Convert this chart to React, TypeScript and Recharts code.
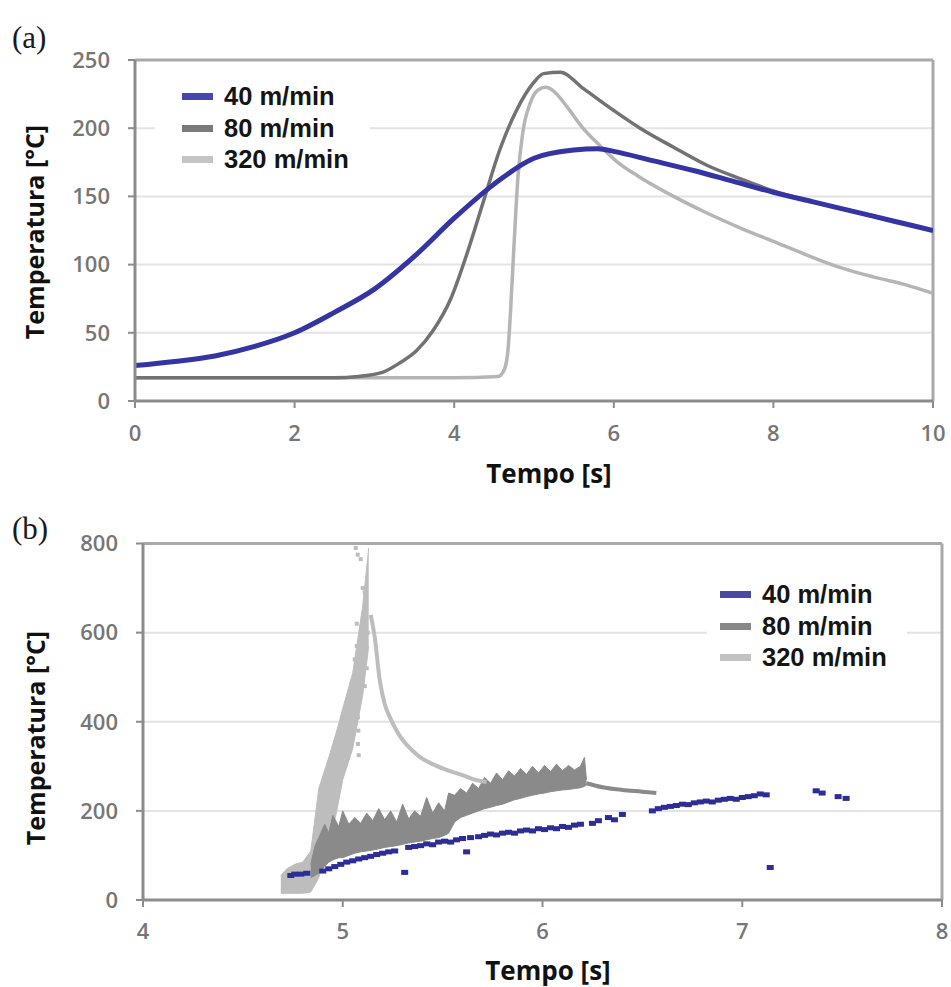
import React from 'react';
import {
  LineChart, Line, ComposedChart, Area, Scatter, XAxis, YAxis,
  CartesianGrid, ReferenceLine, Legend,
} from 'recharts';

// ---------- Panel (a): temperature vs time, 0..10 s ----------
const seriesNames = ['40 m/min', '80 m/min', '320 m/min'];
const xTicksA = [0, 2, 4, 6, 8, 10];
const yTicksA = [0, 50, 100, 150, 200, 250];

const a40: [number, number][] = [
  [0, 26], [0.5, 29], [1, 33], [1.5, 40], [2, 50], [2.5, 65], [3, 82], [3.5, 106],
  [4, 134], [4.5, 159], [5, 178], [5.5, 184], [5.8, 185], [6, 183], [6.5, 176],
  [7, 169], [7.5, 161], [8, 153], [8.5, 146], [9, 139], [9.5, 132], [10, 125],
];
const a80: [number, number][] = [
  [0, 17], [0.5, 17], [1, 17], [1.5, 17], [2, 17], [2.5, 17], [2.8, 18], [3.1, 21],
  [3.32, 28], [3.53, 37], [3.74, 52], [3.95, 74], [4.16, 108], [4.37, 147], [4.57, 184],
  [4.78, 213], [4.99, 233], [5.12, 240], [5.33, 241], [5.62, 229], [6.0, 213],
  [6.33, 200], [6.75, 186], [7.16, 173], [7.58, 163], [8, 154], [8.5, 146], [9, 139],
  [9.5, 132], [10, 125],
];
const a320: [number, number][] = [
  [0, 17], [1, 17], [2, 17], [3, 17], [4, 17], [4.55, 18], [4.62, 22], [4.67, 35],
  [4.71, 70], [4.75, 115], [4.8, 165], [4.86, 197], [4.95, 218], [5.05, 228],
  [5.15, 230], [5.25, 227], [5.41, 216], [5.6, 201], [5.83, 187], [6.05, 175],
  [6.3, 165], [6.75, 150], [7.16, 138], [7.58, 127], [8, 117], [8.42, 107],
  [8.83, 98], [9.25, 91], [9.67, 85], [10, 79],
];

// ---------- Panel (b): temperature vs time, 4..8 s ----------
const xTicksB = [4, 5, 6, 7, 8];
const yTicksB = [0, 200, 400, 600, 800];

// 40 m/min: scattered samples
const b40: [number, number][] = [
  [4.74, 55], [4.76, 58], [4.79, 58], [4.82, 60], [4.9, 65], [4.93, 70], [4.96, 75],
  [4.99, 80], [5.02, 85], [5.05, 88], [5.08, 92], [5.11, 95], [5.14, 98], [5.17, 102],
  [5.2, 105], [5.23, 108], [5.26, 110], [5.31, 62], [5.33, 118], [5.36, 120],
  [5.39, 122], [5.42, 126], [5.45, 124], [5.48, 130], [5.51, 132], [5.54, 130],
  [5.57, 135], [5.6, 138], [5.62, 108], [5.64, 140], [5.68, 142], [5.71, 145],
  [5.74, 148], [5.77, 146], [5.8, 150], [5.83, 152], [5.86, 150], [5.89, 155],
  [5.92, 157], [5.95, 155], [5.98, 160], [6.01, 158], [6.04, 162], [6.07, 160],
  [6.1, 165], [6.13, 163], [6.16, 168], [6.19, 170], [6.25, 172], [6.28, 178],
  [6.33, 185], [6.36, 180], [6.4, 192], [6.55, 200], [6.58, 205], [6.61, 208],
  [6.64, 210], [6.67, 212], [6.7, 215], [6.73, 214], [6.76, 218], [6.79, 220],
  [6.82, 222], [6.85, 220], [6.88, 224], [6.91, 226], [6.94, 228], [6.97, 226],
  [7.0, 230], [7.03, 232], [7.06, 234], [7.09, 238], [7.12, 236], [7.14, 73],
  [7.37, 245], [7.4, 240], [7.48, 232], [7.52, 228],
];

// 80 m/min: dense noisy band (low, high) then smooth tail
const b80band: [number, number, number][] = [
  [4.84, 50, 80], [4.86, 55, 120], [4.88, 60, 140], [4.91, 75, 170], [4.93, 85, 150], [4.95, 90, 190],
  [4.98, 95, 165], [5.0, 95, 200], [5.03, 100, 170], [5.06, 105, 185], [5.09, 108, 172],
  [5.12, 110, 195], [5.15, 112, 178], [5.18, 115, 205], [5.21, 118, 180], [5.24, 120, 200],
  [5.27, 122, 175], [5.3, 125, 215], [5.33, 128, 182], [5.36, 130, 200], [5.39, 132, 188],
  [5.42, 135, 230], [5.45, 138, 195], [5.48, 140, 218], [5.51, 145, 200], [5.53, 150, 240],
  [5.56, 175, 235], [5.59, 185, 250], [5.62, 190, 240], [5.65, 195, 262], [5.68, 200, 250],
  [5.71, 205, 275], [5.74, 208, 262], [5.77, 212, 285], [5.8, 215, 270], [5.83, 220, 290],
  [5.86, 225, 278], [5.89, 228, 295], [5.92, 232, 282], [5.95, 235, 300], [5.98, 238, 285],
  [6.01, 240, 302], [6.04, 243, 288], [6.07, 245, 305], [6.1, 247, 290], [6.13, 248, 302],
  [6.16, 250, 292], [6.19, 252, 300], [6.21, 255, 320], [6.22, 258, 270],
];
const b80tail: [number, number][] = [
  [6.22, 262], [6.3, 253], [6.4, 247], [6.5, 243], [6.57, 240],
];

// 320 m/min: steep rising band, sparse peak samples, smooth decay
const b320band: [number, number, number][] = [
  [4.69, 15, 55], [4.72, 15, 70], [4.76, 15, 80], [4.8, 15, 85], [4.84, 18, 110],
  [4.88, 50, 250], [4.93, 120, 320], [4.97, 200, 380], [5.0, 270, 430],
  [5.05, 340, 510], [5.1, 460, 660], [5.13, 570, 790],
];
const b320sparse: [number, number][] = [
  [5.065, 790], [5.075, 775], [5.09, 765], [5.1, 700], [5.11, 690], [5.07, 620],
  [5.1, 610], [5.125, 600], [5.07, 570], [5.06, 540], [5.09, 530], [5.12, 520],
  [5.08, 495], [5.11, 480], [5.075, 465], [5.078, 440], [5.076, 410], [5.078, 380],
  [5.076, 350], [5.08, 325],
];
const b320decay: [number, number][] = [
  [5.14, 640], [5.16, 590], [5.185, 494], [5.21, 440], [5.235, 411], [5.27, 380],
  [5.3, 359], [5.35, 335], [5.385, 321], [5.45, 305], [5.52, 292], [5.6, 280],
  [5.67, 269], [5.72, 265],
];

const pts = (arr: [number, number][]) => arr.map(([t, v]) => ({ t, v }));
const band = (arr: [number, number, number][]) => arr.map(([t, lo, hi]) => ({ t, r: [lo, hi] }));

const colorsA = ['#3434a4', '#727272', '#b5b5b5'];
const colorsB = ['#2d2d98', '#8a8a8a', '#bdbdbd'];
const swatchA = ['#4646b0', '#7a7a7a', '#c4c4c4'];
const swatchB = ['#4a4aa2', '#888888', '#c2c2c2'];

const axisColor = '#8c8c8c';
const frameColor = '#a9a9a9';
const tickFont = { fill: '#767676', fontSize: 22, fontFamily: '"Open Sans", "DejaVu Sans", sans-serif', fontWeight: 600 };

function LegendBox({ swatches, padLeft, width }: { swatches: string[]; padLeft: number; width: number }) {
  return (
    <div style={{ background: '#fff', width, paddingLeft: padLeft, boxSizing: 'border-box' }}>
      {seriesNames.map((n, i) => (
        <div key={n} style={{ display: 'flex', alignItems: 'center', height: 31.5 }}>
          <span style={{ display: 'inline-block', width: 31, height: 7, background: swatches[i], marginRight: 11 }} />
          <span style={{ fontFamily: '"Liberation Sans", Arial, sans-serif', fontWeight: 700, fontSize: 25.5, color: '#151515', lineHeight: '31px', whiteSpace: 'nowrap' }}>{n}</span>
        </div>
      ))}
    </div>
  );
}

const smallDot = (fill: string, w: number, h: number) => (p: any) => (
  <rect x={p.cx - w / 2} y={p.cy - h / 2} width={w} height={h} fill={fill} />
);

export default function App() {
  return (
    <div style={{ position: 'absolute', left: 0, top: 0, width: 951, height: 987, background: '#fff', overflow: 'hidden' }}>
      <div style={{ position: 'absolute', left: 0, top: 0 }}>
        <LineChart width={951} height={500} margin={{ top: 60, right: 18, bottom: 39, left: 0 }}>
          <CartesianGrid horizontal vertical={false} stroke="#e3e3e3" strokeWidth={2} />
          <XAxis dataKey="t" type="number" domain={[0, 10]} ticks={xTicksA} height={60}
            axisLine={{ stroke: axisColor, strokeWidth: 3 }} tickLine={{ stroke: axisColor, strokeWidth: 2 }}
            tickSize={7} tickMargin={17} tick={tickFont} allowDataOverflow />
          <YAxis type="number" domain={[0, 250]} ticks={yTicksA} width={135}
            axisLine={{ stroke: axisColor, strokeWidth: 3 }} tickLine={{ stroke: axisColor, strokeWidth: 2 }}
            tickSize={7} tickMargin={18} tick={tickFont} allowDataOverflow />
          <ReferenceLine y={250} stroke={frameColor} strokeWidth={3} />
          <ReferenceLine x={10} stroke={frameColor} strokeWidth={3} />
          <Line data={pts(a320)} dataKey="v" name={seriesNames[2]} type="monotone" stroke={colorsA[2]} strokeWidth={3.5} dot={false} isAnimationActive={false} />
          <Line data={pts(a80)} dataKey="v" name={seriesNames[1]} type="monotone" stroke={colorsA[1]} strokeWidth={3.5} dot={false} isAnimationActive={false} />
          <Line data={pts(a40)} dataKey="v" name={seriesNames[0]} type="monotone" stroke={colorsA[0]} strokeWidth={5} dot={false} isAnimationActive={false} />
          <Legend layout="vertical" align="center" verticalAlign="middle"
            wrapperStyle={{ left: 155, top: 81, width: 215 }}
            content={() => <LegendBox swatches={swatchA} padLeft={27} width={215} />} />
        </LineChart>
      </div>

      <div style={{ position: 'absolute', left: 0, top: 487 }}>
        <ComposedChart width={951} height={500} margin={{ top: 56.5, right: 9, bottom: 27, left: 0 }}>
          <CartesianGrid horizontal vertical={false} stroke="#e3e3e3" strokeWidth={2} />
          <XAxis dataKey="t" type="number" domain={[4, 8]} ticks={xTicksB} height={60}
            axisLine={{ stroke: axisColor, strokeWidth: 3 }} tickLine={{ stroke: axisColor, strokeWidth: 2 }}
            tickSize={7} tickMargin={16} tick={tickFont} allowDataOverflow />
          <YAxis type="number" domain={[0, 800]} ticks={yTicksB} width={143}
            axisLine={{ stroke: axisColor, strokeWidth: 3 }} tickLine={{ stroke: axisColor, strokeWidth: 2 }}
            tickSize={7} tickMargin={18} tick={tickFont} allowDataOverflow />
          <ReferenceLine y={800} stroke={frameColor} strokeWidth={3} />
          <ReferenceLine x={8} stroke={frameColor} strokeWidth={3} />
          <Area data={band(b320band)} dataKey="r" name={seriesNames[2]} type="linear" stroke={colorsB[2]} strokeWidth={1} fill={colorsB[2]} fillOpacity={1} isAnimationActive={false} dot={false} activeDot={false} />
          <Scatter data={pts(b320sparse)} dataKey="v" name={seriesNames[2] + ' '} fill={colorsB[2]} shape={smallDot(colorsB[2], 4, 4)} isAnimationActive={false} legendType="none" />
          <Line data={pts(b320decay)} dataKey="v" name={seriesNames[2] + '  '} type="monotone" stroke={colorsB[2]} strokeWidth={4} dot={false} isAnimationActive={false} legendType="none" />
          <Area data={band(b80band)} dataKey="r" name={seriesNames[1]} type="linear" stroke={colorsB[1]} strokeWidth={1} fill={colorsB[1]} fillOpacity={1} isAnimationActive={false} dot={false} activeDot={false} />
          <Line data={pts(b80tail)} dataKey="v" name={seriesNames[1] + ' '} type="monotone" stroke={colorsB[1]} strokeWidth={4} dot={false} isAnimationActive={false} legendType="none" />
          <Scatter data={pts(b40)} dataKey="v" name={seriesNames[0]} fill={colorsB[0]} shape={smallDot(colorsB[0], 7, 5)} isAnimationActive={false} />
          <Legend layout="vertical" align="center" verticalAlign="middle"
            wrapperStyle={{ left: 707, top: 92, width: 200 }}
            content={() => <LegendBox swatches={swatchB} padLeft={13} width={200} />} />
        </ComposedChart>
      </div>

      <svg width={951} height={987} style={{ position: 'absolute', left: 0, top: 0, pointerEvents: 'none' }}>
        <g fontFamily='"Liberation Serif", "Times New Roman", serif' fontSize={31} fill="#1a1a1a">
          <text x={12} y={48}>(a)</text>
          <text x={12} y={539}>(b)</text>
        </g>
        <g fontFamily='"Open Sans", "DejaVu Sans", sans-serif' fontWeight={700} fill="#111">
          <text transform="translate(44,232) rotate(-90)" textAnchor="middle" fontSize={25}>Temperatura [°C]</text>
          <text transform="translate(45,738) rotate(-90)" textAnchor="middle" fontSize={25}>Temperatura [°C]</text>
          <text x={549} y={483} textAnchor="middle" fontSize={26}>Tempo [s]</text>
          <text x={548} y={980} textAnchor="middle" fontSize={26}>Tempo [s]</text>
        </g>
      </svg>
    </div>
  );
}
